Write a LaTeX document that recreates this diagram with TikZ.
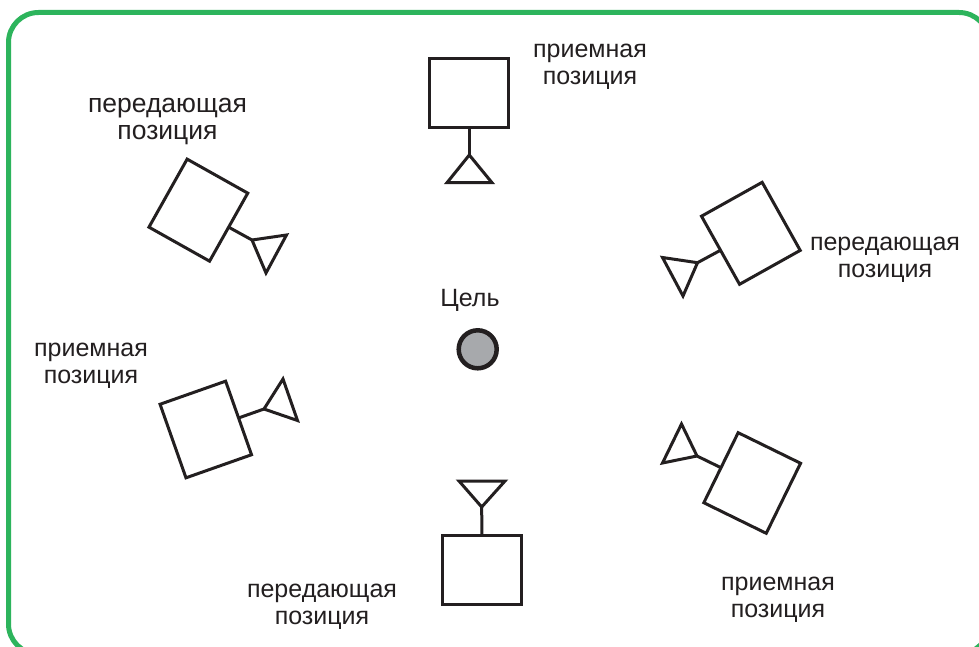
\documentclass[tikz,border=0pt]{standalone}
\usepackage{fontspec}
\setmainfont{Liberation Sans}
\definecolor{ink}{HTML}{231F20}
\definecolor{frame}{HTML}{2DB45C}
\definecolor{target}{HTML}{A7A9AC}
\tikzset{
  x=1pt,y=-1pt,
  post/.style={draw=ink,line width=3pt,fill=white,inner sep=0pt,outer sep=0pt,minimum width=#1,minimum height=78pt},
  post/.default=69.5pt,
  wire/.style={draw=ink,line width=3pt},
  dish/.style={draw=ink,line width=3pt,line join=miter,miter limit=3},
  caption/.style={text=ink,font=\fontsize{25}{27}\selectfont,align=center,inner sep=0pt},
}
\begin{document}
\begin{tikzpicture}
\useasboundingbox (0,0) rectangle (979,647);
\clip (0,0) rectangle (979,647);
\fill[white] (0,0) rectangle (979,647);
\draw[frame,line width=5pt,rounded corners=30pt] (8.5,12.5) rectangle (989,654);

% top
\node[post,minimum width=78.7pt,minimum height=69pt] (sqT) at (469.3,92.8) {};
\coordinate (tT) at (469.3,155);
\coordinate (tTa) at (447,182.7);
\coordinate (tTb) at (492,182.7);
\draw[wire] (sqT.south) -- (tT);
\draw[dish] (tT) -- (tTb) -- (tTa) -- cycle;
% bottom
\node[post,minimum width=78.3pt,minimum height=69.4pt] (sqB) at (481.85,570) {};
\coordinate (tB) at (481.7,507);
\coordinate (tBa) at (459,481);
\coordinate (tBb) at (505,481);
\draw[wire] (sqB.north) -- (tB);
\draw[dish] (tB) -- (tBb) -- (tBa) -- cycle;
% upper left
\node[post,rotate=-29.3] (sqUL) at (198.35,210.15) {};
\coordinate (tUL) at (252,240);
\coordinate (tULa) at (286.5,235);
\coordinate (tULb) at (266,273);
\draw[wire] (sqUL.east) -- (tUL);
\draw[dish] (tUL) -- (tULa) -- (tULb) -- cycle;
% upper right
\node[post,rotate=29.2] (sqUR) at (750.85,233.3) {};
\coordinate (tUR) at (697.5,262.7);
\coordinate (tURa) at (662.5,257.5);
\coordinate (tURb) at (683,296);
\draw[wire] (sqUR.west) -- (tUR);
\draw[dish] (tUR) -- (tURa) -- (tURb) -- cycle;
% lower right
\node[post,rotate=-26.1] (sqLR) at (752.2,483) {};
\coordinate (tLR) at (697,456);
\coordinate (tLRa) at (681.5,424);
\coordinate (tLRb) at (662.5,463);
\draw[wire] (sqLR.west) -- (tLR);
\draw[dish] (tLR) -- (tLRa) -- (tLRb) -- cycle;
% left
\node[post,rotate=19.4] (sqL) at (205.8,429.5) {};
\coordinate (tL) at (264,409);
\coordinate (tLa) at (283,379);
\coordinate (tLb) at (297.5,420.5);
\draw[wire] (sqL.east) -- (tL);
\draw[dish] (tL) -- (tLa) -- (tLb) -- cycle;

% target
\node[circle,draw=ink,line width=4.5pt,fill=target,minimum size=38pt,inner sep=0pt] (tgt) at (477.7,349.3) {};

% captions
\node[caption] (c1) at (590,67) {приемная\\позиция};
\node[caption,font=\fontsize{26.5}{27}\selectfont] (c2) at (167.5,121.5) {передающая\\позиция};
\node[caption] (c3) at (885,259.5) {передающая\\позиция};
\node[caption] (c4) at (91,366) {приемная\\позиция};
\node[caption] (c5) at (322,607) {передающая\\позиция};
\node[caption] (c6) at (778,599.5) {приемная\\позиция};
\node[caption] (c7) at (470,300) {Цель};
\end{tikzpicture}
\end{document}
